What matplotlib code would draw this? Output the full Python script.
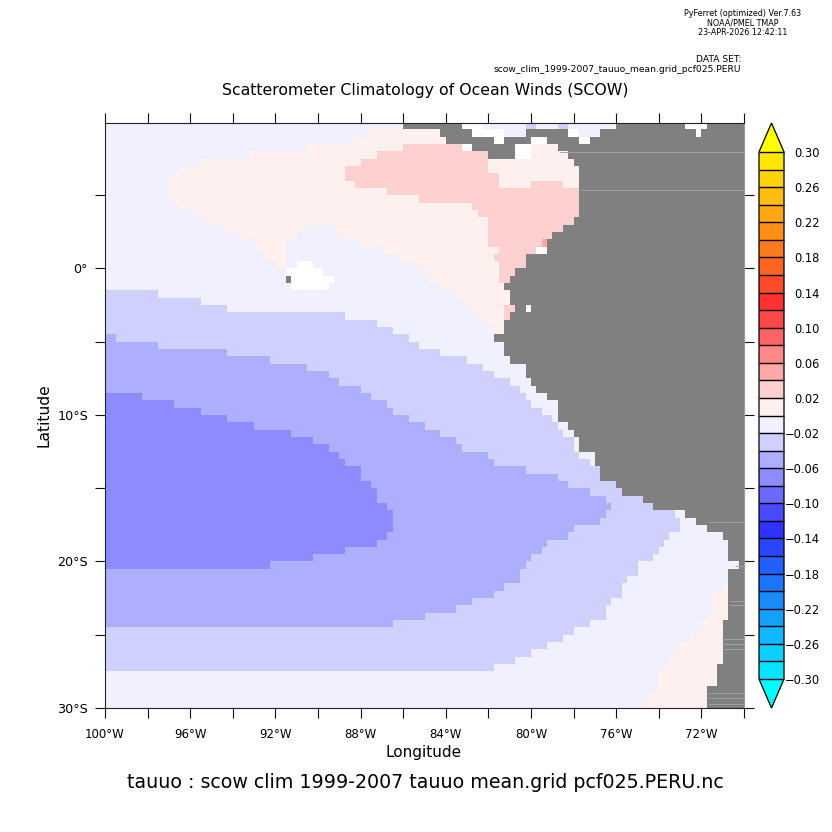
import numpy as np
import matplotlib
matplotlib.use("Agg")
import matplotlib.pyplot as plt
from matplotlib.colors import ListedColormap, BoundaryNorm

# colour bands of the Ferret palette, -0.30 up to 0.30 in steps of 0.02
levels = [-0.30, -0.28, -0.26, -0.24, -0.22, -0.20, -0.18, -0.16, -0.14, -0.12, -0.10,
          -0.08, -0.06, -0.04, -0.02, 0.0, 0.02, 0.04, 0.06, 0.08, 0.10, 0.12, 0.14,
          0.16, 0.18, 0.20, 0.22, 0.24, 0.26, 0.28, 0.30]
band_colors = ["#08e4ff", "#0ccfff", "#10b8ff", "#14a0ff", "#188cff", "#1c74ff", "#2060ff",
               "#2a46ff", "#3232ff", "#4a4aff", "#6a6aff", "#8c8cff", "#aeaeff", "#d0d0ff",
               "#f0f0ff", "#fff0f0", "#ffd0d0", "#ffa8a8", "#ff8888", "#ff6464", "#ff4848",
               "#ff3232", "#ff4c28", "#ff6420", "#ff7a1a", "#ff8f14", "#ffa814", "#ffbe0f",
               "#ffd20a", "#ffe600"]
under_color = "#00ffff"
over_color = "#ffff00"
cbar_ticks = [-0.30, -0.26, -0.22, -0.18, -0.14, -0.10, -0.06, -0.02,
              0.02, 0.06, 0.10, 0.14, 0.18, 0.22, 0.26, 0.30]

# tauuo, by band letter
band_tau = {"a": 0.01, "b": 0.03, "c": 0.05, "d": -0.01, "e": -0.03, "f": -0.05, "g": -0.07}

# each row runs west to east: the bands met, and the longitude where each one ends
# (L = land, W = missing; the last band of a row runs on to 70W)
row_lat = [9.75, 9.25, 8.75, 8.25, 7.75, 7.25, 6.75, 6.25, 5.75, 5.25, 4.75, 4.25, 3.75, 3.25,
           2.75, 2.25, 1.75, 1.25, 0.75, 0.25, -0.25, -0.75, -1.25, -1.75, -2.25, -2.75,
           -3.25, -3.75, -4.25, -4.75, -5.25, -5.75, -6.25, -6.75, -7.25, -7.75, -8.25,
           -8.75, -9.25, -9.75, -10.25, -10.75, -11.25, -11.75, -12.25, -12.75, -13.25,
           -13.75, -14.25, -14.75, -15.25, -15.75, -16.25, -16.75, -17.25, -17.75, -18.25,
           -18.75, -19.25, -19.75, -20.25, -20.75, -21.25, -21.75, -22.25, -22.75, -23.25,
           -23.75, -24.25, -24.75, -25.25, -25.75, -26.25, -26.75, -27.25, -27.75, -28.25,
           -28.75, -29.25, -29.75]
row_bands = ["dLWdededLWL", "daLWdLWdLWL", "daLWLWLWL", "dabWLWaL", "dabLWaL", "dabaL", "dabaL",
             "dabaL", "dababaL", "dabL", "dabL", "dabL", "dabL", "dabL", "dadabL", "dadabL",
             "dadabcL", "dadabWL", "dadabL", "dadWdabL", "dWdabL", "dLWdabL", "dWdaL", "edaL",
             "edaL", "edabLWL", "edabL", "edaL", "edaL", "fedL", "fedL", "fedL", "fedL", "fedL",
             "fedL", "fedL", "fedL", "gfedL", "gfedL", "gfedL", "gfedL", "gfedL", "gfedL",
             "gfedL", "gfedL", "gfedL", "gfedL", "gfeL", "gfeL", "gfeL", "gfeL", "gfeL", "gfeL",
             "gfedL", "gfedL", "gfedL", "gfedL", "gfedL", "gfedL", "gfedL", "gfedL", "fedL",
             "fedL", "fedaL", "fedaL", "fedaL", "fedaL", "fedaL", "fedaL", "edaL", "edaL", "edaL",
             "edaL", "edaL", "edaL", "daL", "daL", "daL", "daL", "daL"]
row_ends = [
    [-86, -83.35, -82.15, -80.35, -79.65, -78.65, -78.15, -76, -72.7, -71.7],
    [-87.65, -84.35, -82.65, -81.15, -80.35, -78.35, -77.7, -76.65, -72.35, -72],
    [-88.6, -83.9, -81.7, -81.35, -80, -79.35, -77.7, -77.3],
    [-90.6, -86.1, -83.2, -82.65, -80.7, -79.9, -78.7],
    [-93.35, -87.3, -82.1, -80.65, -79.9, -78.35],
    [-95.6, -88.1, -81.9, -78],
    [-96.5, -88.75, -81.9, -77.7],
    [-96.9, -88.85, -81.4, -77.7],
    [-97.1, -88.25, -81.4, -79.9, -78.4, -77.7],
    [-96.9, -86.85, -77.7],
    [-96.9, -85.15, -77.7],
    [-96.5, -82.65, -77.7],
    [-95.85, -82.4, -77.7],
    [-95.3, -82.1, -78],
    [-94.6, -90.4, -89.35, -81.9, -78.4],
    [-93.8, -91.1, -88.9, -81.9, -79],
    [-93.1, -91.4, -88, -81.9, -79.5, -79.15],
    [-92.8, -91.4, -86.9, -81.6, -79.65, -79.35],
    [-92.4, -91.4, -86.2, -81.65, -80.3],
    [-91.95, -91.4, -91.1, -90.15, -85.45, -81.4, -80.3],
    [-91.6, -89.85, -85.05, -81.4, -80.65],
    [-91.6, -91.3, -89.35, -84.75, -81.4, -81],
    [-91.3, -89.6, -84.2, -81.35],
    [-97.6, -83.55, -81],
    [-95.6, -83.2, -81],
    [-94.15, -82.7, -81.35, -80.65, -80.3, -80],
    [-88.65, -82.4, -81.35, -81],
    [-87.15, -81.9, -81.35],
    [-86.4, -81.85, -81.35],
    [-99.6, -85.7, -81.7],
    [-97.4, -85.2, -81.35],
    [-94.15, -84.35, -81.35],
    [-92.15, -82.95, -81],
    [-90.6, -82.25, -80.3],
    [-89.6, -81.75, -80.3],
    [-88.9, -81, -80],
    [-87.9, -80.4, -79.65],
    [-98.35, -87.6, -80.15, -79.35],
    [-96.85, -86.85, -79.9, -78.85],
    [-95.6, -86.4, -79.4, -78.7],
    [-94.15, -85.65, -78.9, -78.7],
    [-93.1, -85.1, -78.65, -78.35],
    [-91.35, -84.35, -78.4, -78.05],
    [-90.15, -83.6, -78.1, -77.7],
    [-89.6, -83.15, -77.9, -77.7],
    [-89.1, -82.1, -77.65, -77],
    [-88.65, -81.65, -77.15, -77],
    [-88.1, -80.15, -76.7],
    [-87.9, -78.85, -76.65],
    [-87.6, -78.15, -76],
    [-87.35, -77.15, -75.7],
    [-87.15, -76.4, -74.7],
    [-86.85, -76.15, -74.35],
    [-86.6, -76.4, -73.15, -72.7],
    [-86.6, -76.65, -72.9, -72.3],
    [-86.6, -77.9, -73.1, -71.7],
    [-86.85, -78.2, -73.4, -71.05],
    [-87.15, -79.15, -73.65, -70.7],
    [-88.65, -79.4, -73.9, -70.7],
    [-90.15, -79.9, -74.35, -70.7],
    [-92.35, -80.15, -74.9, -70.35],
    [-80.6, -75.1, -70.7],
    [-80.6, -75.4, -70.7],
    [-81.15, -75.65, -71.1, -70.7],
    [-81.65, -75.85, -71.4, -70.7],
    [-82.65, -76.15, -71.4, -70.7],
    [-83.6, -76.6, -71.4, -70.7],
    [-85.1, -76.6, -71.65, -70.7],
    [-86.6, -77.2, -71.9, -71.05],
    [-77.9, -72.1, -71.05],
    [-78.55, -72.6, -71.05],
    [-79.2, -72.95, -71.05],
    [-80, -73.15, -71.05],
    [-80.75, -73.4, -71.05],
    [-81.7, -73.65, -71.35],
    [-73.9, -71.35],
    [-73.9, -71.35],
    [-74.1, -71.7],
    [-74.4, -71.7],
    [-74.65, -71.7],
]

# thin lighter streaks across the land mask
streak_lat = [7.97, 5.34, -17.3, -20.3, -22.7, -23.0, -25.3, -25.63, -25.97, -29.0, -29.35, -29.7]
streak_lon = [-78.65, -77.7, -71.67, -70.4, -70.7, -70.7, -71.05, -71.05, -71.05, -71.67, -71.67, -71.67]

lon_ticks = [-100, -98, -96, -94, -92, -90, -88, -86, -84, -82, -80, -78, -76, -74, -72, -70]
lon_labels = ["100°W", "", "96°W", "", "92°W", "", "88°W", "", "84°W", "", "80°W", "", "76°W", "", "72°W", ""]
lat_ticks = [5, 0, -5, -10, -15, -20, -25, -30]
lat_labels = ["", "0°", "", "10°S", "", "20°S", "", "30°S"]

# build the 1/4 degree grid from the rows
lon_edges = np.arange(-100, -69.75, 0.25)
lon_mid = lon_edges[:-1] + 0.125
lat_edges = np.array([row_lat[0] + 0.25] + [l - 0.25 for l in row_lat])
tau = np.full((len(row_lat), len(lon_mid)), np.nan)
land = np.zeros_like(tau, dtype=bool)
for i in range(len(row_lat)):
    idx = np.searchsorted(row_ends[i], lon_mid)
    for j, k in enumerate(idx):
        code = row_bands[i][k]
        if code == "L":
            land[i, j] = True
        elif code != "W":
            tau[i, j] = band_tau[code]

cmap = ListedColormap(band_colors)
cmap.set_under(under_color)
cmap.set_over(over_color)
cmap.set_bad("white")
norm = BoundaryNorm(levels, cmap.N)

fig = plt.figure(figsize=(8.32, 8.32), dpi=100)
ax = fig.add_axes([105 / 832, 1 - 708 / 832, 639 / 832, 585 / 832])
ax.pcolormesh(lon_edges, lat_edges, np.ma.masked_invalid(tau), cmap=cmap, norm=norm)
ax.pcolormesh(lon_edges, lat_edges, np.ma.masked_where(~land, land.astype(float)),
              cmap=ListedColormap(["#808080"]))
for lat, lon in zip(streak_lat, streak_lon):
    ax.hlines(lat, lon, -70, color="#a0a0a0", lw=0.7)

ax.set_xlim(-100, -70)
ax.set_ylim(-30, 9.93)
ax.set_xticks(lon_ticks)
ax.set_xticklabels(lon_labels, fontsize=8.5)
ax.set_yticks(lat_ticks)
ax.set_yticklabels(lat_labels, fontsize=9.2)
ax.tick_params(axis="both", direction="out", length=7.2, width=0.8, color="#111111",
               top=True, right=True)
ax.tick_params(axis="x", pad=7)
ax.tick_params(axis="y", pad=5)
for side in ["left", "top", "bottom"]:
    ax.spines[side].set_linewidth(0.8)
    ax.spines[side].set_color("#222222")
ax.spines["right"].set_linewidth(0.8)
ax.spines["right"].set_color("#999999")

fig.text(424 / 832, 1 - 752 / 832, "Longitude", fontsize=11, ha="center", va="center")
fig.text(44 / 832, 1 - 415 / 832, "Latitude", fontsize=11.2, rotation=90, ha="center", va="center")
fig.text(425 / 832, 1 - 90 / 832, "Scatterometer Climatology of Ocean Winds (SCOW)",
         fontsize=11.3, ha="center", va="center")
fig.text(425 / 832, 1 - 782 / 832, "tauuo : scow clim 1999-2007 tauuo mean.grid pcf025.PERU.nc",
         fontsize=13.7, ha="center", va="center")

fig.text(743 / 832, 1 - 14 / 832, "PyFerret (optimized) Ver.7.63", fontsize=5.8, ha="center", va="center")
fig.text(743 / 832, 1 - 23 / 832, "NOAA/PMEL TMAP", fontsize=5.8, ha="center", va="center")
fig.text(743 / 832, 1 - 32.5 / 832, "23-APR-2026 12:42:11", fontsize=5.8, ha="center", va="center")
fig.text(741 / 832, 1 - 59 / 832, "DATA SET:", fontsize=6.6, ha="right", va="center")
fig.text(741 / 832, 1 - 69 / 832, "scow_clim_1999-2007_tauuo_mean.grid_pcf025.PERU",
         fontsize=6.6, ha="right", va="center")

# colour key with triangular ends, the axes include the two triangles
cax = fig.add_axes([759 / 832, 1 - 708 / 832, 25 / 832, 585 / 832])
sm = plt.cm.ScalarMappable(norm=norm, cmap=cmap)
cb = fig.colorbar(sm, cax=cax, extend="both", extendfrac=0.055, drawedges=True, spacing="uniform")
cb.dividers.set_linewidth(1.0)
cb.dividers.set_color("black")
cb.outline.set_linewidth(0.9)
cb.outline.set_edgecolor("black")
cb.set_ticks(cbar_ticks)
cb.set_ticklabels([f"{v:.2f}".replace("-", "\u2212") for v in cbar_ticks], fontsize=8.3, ha="right")
cax.tick_params(length=0, pad=26)
cax.minorticks_off()

fig.savefig("out.png", dpi=100)
